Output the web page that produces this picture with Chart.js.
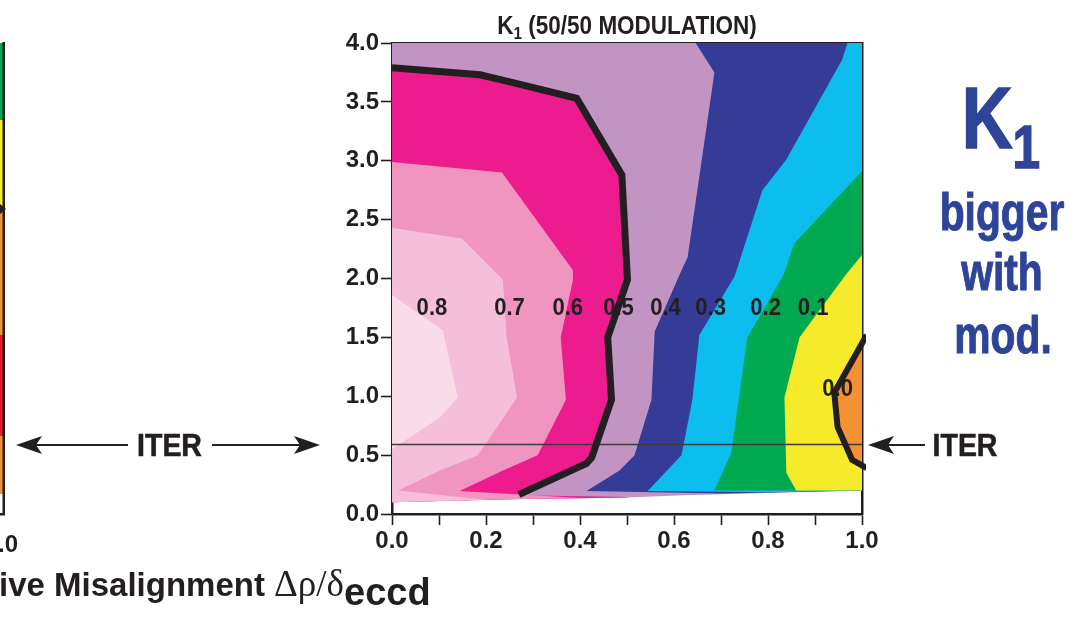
<!DOCTYPE html>
<html><head><meta charset="utf-8">
<script src="https://cdn.jsdelivr.net/npm/chart.js@4.4.1/dist/chart.umd.min.js"></script>
<style>
html,body{margin:0;padding:0;background:#fff;}
#wrap{position:relative;width:1084px;height:622px;overflow:hidden;}
#c{position:absolute;left:0;top:0;}
#ov{position:absolute;left:0;top:0;}
</style></head><body>
<div id="wrap">
<canvas id="c" width="1084" height="622"></canvas>
<svg id="ov" width="1084" height="622" xmlns="http://www.w3.org/2000/svg"></svg>
</div>
<script>
// ---------- data ----------
const xTickValues = [0, 0.1, 0.2, 0.3, 0.4, 0.5, 0.6, 0.7, 0.8, 0.9, 1.0];
const xTickLabels = ['0.0', '', '0.2', '', '0.4', '', '0.6', '', '0.8', '', '1.0'];
const yTickValues = [0, 0.5, 1.0, 1.5, 2.0, 2.5, 3.0, 3.5, 4.0];
const yTickLabels = ['0.0', '0.5', '1.0', '1.5', '2.0', '2.5', '3.0', '3.5', '4.0'];

const titleMain = 'K', titleSub = '1', titleRest = ' (50/50 MODULATION)';

// contour level labels and their positions (data units)
const levelLabels = ['0.8', '0.7', '0.6', '0.5', '0.4', '0.3', '0.2', '0.1', '0.0'];
const levelLabelX = [0.085, 0.25, 0.374, 0.482, 0.582, 0.678, 0.795, 0.896, 0.948];
const levelLabelY = [1.75, 1.75, 1.75, 1.75, 1.75, 1.75, 1.75, 1.75, 1.06];

// filled contour bands (polygons in data units: [misalignment, y])
const bandAll   = [[0,4],[1,4],[1,0.20],[0.62,0.16],[0.5,0.14],[0.25,0.125],[0,0.10]];
const bandGt05  = [[0,3.79],[0.187,3.73],[0.251,3.67],[0.393,3.53],[0.489,2.88],[0.501,1.99],[0.459,1.50],[0.467,0.97],[0.425,0.48],[0.414,0.43],[0.27,0.16],[0.50,0.145],[0.5,0.14],[0.25,0.125],[0,0.10]];
const bandGt06  = [[0,2.99],[0.234,2.90],[0.385,2.07],[0.385,1.99],[0.359,1.50],[0.370,0.97],[0.31,0.50],[0.236,0.37],[0.144,0.195],[0.40,0.136],[0.25,0.125],[0,0.10]];
const bandGt07  = [[0,2.43],[0.064,2.39],[0.149,2.34],[0.236,1.99],[0.244,1.50],[0.266,0.99],[0.183,0.50],[0.102,0.37],[0.013,0.20],[0.20,0.122],[0,0.10]];
const bandGt08  = [[0,1.86],[0.108,1.56],[0.140,0.99],[0.102,0.82],[0,0.55]];
const bandLt04  = [[0.646,4],[0.686,3.75],[0.629,2.18],[0.616,2.07],[0.559,1.55],[0.552,0.97],[0.516,0.50],[0.484,0.37],[0.414,0.195],[0.70,0.175],[1,0.20],[1,4]];
const bandLt03  = [[0.969,4],[0.958,3.86],[0.839,3.01],[0.788,2.75],[0.729,2.02],[0.654,1.52],[0.639,0.97],[0.616,0.50],[0.544,0.195],[0.80,0.185],[1,0.20],[1,4]];
const bandLt02  = [[1,2.91],[0.856,2.30],[0.833,2.03],[0.756,1.50],[0.722,0.52],[0.686,0.20],[1,0.20]];
const bandLt01  = [[1,2.20],[0.965,2.03],[0.867,1.50],[0.835,0.99],[0.839,0.35],[0.86,0.20],[1,0.20]];
const bandLt00  = [[1,1.50],[0.941,1.03],[0.948,0.74],[0.979,0.46],[1,0.40]];

// highlighted contour lines
const contour05 = [[0,3.79],[0.187,3.73],[0.251,3.67],[0.393,3.53],[0.489,2.88],[0.501,1.99],[0.459,1.50],[0.467,0.97],[0.425,0.48],[0.414,0.43],[0.27,0.165]];
const contour00 = [[1.01,1.52],[0.941,1.03],[0.948,0.74],[0.979,0.46],[1.01,0.39]];
const iterLevel = 0.59;

// ---------- chart ----------
const INK = '#231F20';
const FONT = '"Liberation Sans", Arial, Helvetica, sans-serif';
const toPts = a => a.map(p => ({x: p[0], y: p[1]}));

const bands = [
  {d: bandAll,  c: '#C194C4'},
  {d: bandGt05, c: '#EC1C8E'},
  {d: bandGt06, c: '#F095BF'},
  {d: bandGt07, c: '#F5BED9'},
  {d: bandGt08, c: '#F9DCE7'},
  {d: bandLt04, c: '#343C97'},
  {d: bandLt03, c: '#0CBEEE'},
  {d: bandLt02, c: '#00A94F'},
  {d: bandLt01, c: '#F6EB2A'},
  {d: bandLt00, c: '#F29234'}
];
const datasets = bands.map(b => ({
  data: toPts(b.d), showLine: true, fill: 'shape', backgroundColor: b.c,
  borderWidth: 0, borderColor: b.c, pointRadius: 0, tension: 0
}));
datasets.push({data: toPts([[0, iterLevel], [1, iterLevel]]), showLine: true, fill: false,
  borderColor: '#3F3B3C', borderWidth: 1.6, pointRadius: 0});
datasets.push({data: toPts(contour05), showLine: true, fill: false, borderColor: INK,
  borderWidth: 7, pointRadius: 0, borderJoinStyle: 'miter', borderCapStyle: 'butt'});
datasets.push({data: toPts(contour00), showLine: true, fill: false, borderColor: INK,
  borderWidth: 6, pointRadius: 0, borderJoinStyle: 'miter', borderCapStyle: 'butt',
  clip: {left: 0, top: 0, right: 4, bottom: 0}});
datasets.forEach((d, i) => { d.order = datasets.length - i; });

const labelPlugin = {
  id: 'levelLabels',
  afterDatasetsDraw(chart) {
    const {ctx, scales: {x, y}} = chart;
    ctx.save();
    ctx.font = 'bold 24px ' + FONT;
    ctx.fillStyle = INK;
    ctx.textAlign = 'center';
    ctx.textBaseline = 'middle';
    levelLabels.forEach((t, i) => {
      const px = x.getPixelForValue(levelLabelX[i]), py = y.getPixelForValue(levelLabelY[i]);
      ctx.save(); ctx.translate(px, py); ctx.scale(0.92, 1);
      ctx.fillText(t, 0, 0);
      ctx.restore();
    });
    ctx.restore();
  }
};
const titlePlugin = {
  id: 'kTitle',
  afterDraw(chart) {
    const {ctx, chartArea: a} = chart;
    const cx = (a.left + a.right) / 2;
    ctx.save();
    ctx.fillStyle = INK;
    ctx.textBaseline = 'alphabetic';
    ctx.textAlign = 'left';
    ctx.translate(cx, 34);
    ctx.scale(0.9, 1);
    ctx.font = 'bold 25px ' + FONT;
    const wK = ctx.measureText(titleMain).width;
    const wR = ctx.measureText(titleRest).width;
    ctx.font = 'bold 17px ' + FONT;
    const w1 = ctx.measureText(titleSub).width;
    let x0 = -(wK + w1 + wR) / 2;
    ctx.font = 'bold 25px ' + FONT;
    ctx.fillText(titleMain, x0, 0);
    ctx.font = 'bold 17px ' + FONT;
    ctx.fillText(titleSub, x0 + wK, 5);
    ctx.font = 'bold 25px ' + FONT;
    ctx.fillText(titleRest, x0 + wK + w1, 0);
    ctx.restore();
  }
};

const tickFont = {family: FONT, size: 24, weight: 'bold'};
new Chart(document.getElementById('c'), {
  type: 'scatter',
  data: {datasets},
  options: {
    responsive: false, animation: false, devicePixelRatio: 1,
    layout: {padding: {left: 330, right: 222, top: 43, bottom: 68}},
    plugins: {legend: {display: false}, tooltip: {enabled: false}, title: {display: false}},
    scales: {
      x: {
        type: 'linear', position: 'bottom', min: 0, max: 1, z: 1,
        afterBuildTicks: s => { s.ticks = xTickValues.map(v => ({value: v})); },
        afterFit: s => { s.height = 40; },
        ticks: {autoSkip: false, maxRotation: 0, padding: 2, color: INK, font: tickFont,
          callback: (v, i) => xTickLabels[i]},
        grid: {drawOnChartArea: false, drawTicks: true, tickLength: 11, tickColor: INK, tickWidth: 1.6},
        border: {display: true, color: INK, width: 2.5}
      },
      y: {
        type: 'linear', position: 'left', min: 0, max: 4, z: 1,
        afterBuildTicks: s => { s.ticks = yTickValues.map(v => ({value: v})); },
        afterFit: s => { s.width = 62; },
        ticks: {autoSkip: false, padding: 2, color: INK, font: tickFont,
          callback: (v, i) => yTickLabels[i]},
        grid: {drawOnChartArea: false, drawTicks: true, tickLength: 11, tickColor: INK, tickWidth: 1.6},
        border: {display: true, color: INK, width: 2.5}
      },
      x2: {
        type: 'linear', position: 'top', min: 0, max: 1, z: 1,
        afterFit: s => { s.height = 0; },
        ticks: {display: false}, grid: {display: false},
        border: {display: true, color: INK, width: 2.5}
      },
      y2: {
        type: 'linear', position: 'right', min: 0, max: 4, z: 1,
        afterFit: s => { s.width = 0; },
        ticks: {display: false}, grid: {display: false},
        border: {display: true, color: INK, width: 2.5}
      }
    }
  },
  plugins: [labelPlugin, titlePlugin]
});

// ---------- annotations outside the plot ----------
const NS = 'http://www.w3.org/2000/svg';
const ov = document.getElementById('ov');
function el(tag, attrs, text) {
  const e = document.createElementNS(NS, tag);
  for (const k in attrs) e.setAttribute(k, attrs[k]);
  if (text !== undefined) e.textContent = text;
  ov.appendChild(e);
  return e;
}
// sliver of the neighbouring panel at the left edge
const stripColors = [['#00A94F', 43, 120], ['#F6EB2A', 120, 209], ['#F29234', 209, 335], ['#E31E25', 335, 436], ['#F29234', 436, 494]];
stripColors.forEach(s => el('rect', {x: 0, y: s[1], width: 3, height: s[2] - s[1], fill: s[0]}));
el('rect', {x: 2.5, y: 42, width: 2.5, height: 473, fill: INK});
el('rect', {x: 0, y: 513, width: 5, height: 2.5, fill: INK});
el('path', {d: 'M0,204 L6,209 L0,214 Z', fill: INK});
el('text', {x: -2, y: 552, 'font-family': FONT, 'font-weight': 'bold', 'font-size': 24, fill: INK}, '.0');

function arrow(tipX, y, dir, shaftEnd) {
  const L = 26, H = 9, N = 20;
  const bx = tipX - dir * L, nx = tipX - dir * N;
  el('line', {x1: nx, y1: y, x2: shaftEnd, y2: y, stroke: INK, 'stroke-width': 2.2});
  el('path', {d: `M${tipX},${y} L${bx},${y - H} L${nx},${y} L${bx},${y + H} Z`, fill: INK});
}
arrow(16, 445, -1, 128);
arrow(320, 445, 1, 212);
arrow(868, 445, -1, 925);
function condText(cx, y, size, scale, txt, color, fam) {
  const g = document.createElementNS(NS, 'g');
  g.setAttribute('transform', `translate(${cx},0) scale(${scale},1)`);
  const t = document.createElementNS(NS, 'text');
  t.setAttribute('x', 0); t.setAttribute('y', y);
  t.setAttribute('text-anchor', 'middle');
  t.setAttribute('font-family', fam || FONT);
  t.setAttribute('font-weight', 'bold');
  t.setAttribute('font-size', size);
  t.setAttribute('fill', color);
  t.textContent = txt;
  g.appendChild(t); ov.appendChild(g);
  return t;
}
const it1 = condText(169.5, 456, 32, 0.89, 'ITER', INK);
const it2 = condText(965, 456, 32, 0.89, 'ITER', INK);
[it1, it2].forEach(t => { t.setAttribute('stroke', INK); t.setAttribute('stroke-width', 0.6); });

const BLUE = '#2E4499';
const k = condText(1001, 148, 88, 0.8, 'K', BLUE);
k.setAttribute('stroke', BLUE); k.setAttribute('stroke-width', 1.5);
const sub = document.createElementNS(NS, 'tspan');
sub.setAttribute('font-size', 62); sub.setAttribute('dy', 20); sub.textContent = '1';
k.appendChild(sub);
[['bigger', 1002, 230], ['with', 1002, 290], ['mod.', 1003, 353]].forEach(r => {
  const t = condText(r[1], r[2], 51, 0.8, r[0], BLUE);
  t.setAttribute('stroke', BLUE); t.setAttribute('stroke-width', 1);
});

// bottom axis title (cut off by the figure edge)
const at = el('text', {x: -1, y: 596, 'font-family': FONT, 'font-weight': 'bold', 'font-size': 33, fill: INK}, 'ive Misalignment ');
const g1 = document.createElementNS(NS, 'tspan');
g1.setAttribute('font-family', '"Liberation Serif", "DejaVu Serif", serif');
g1.setAttribute('font-weight', 'normal'); g1.setAttribute('font-size', 37);
g1.textContent = 'Δρ/δ'; at.appendChild(g1);
const g2 = document.createElementNS(NS, 'tspan');
g2.setAttribute('font-size', 38); g2.setAttribute('dy', 9); g2.textContent = 'eccd';
at.appendChild(g2);
</script>
</body></html>
